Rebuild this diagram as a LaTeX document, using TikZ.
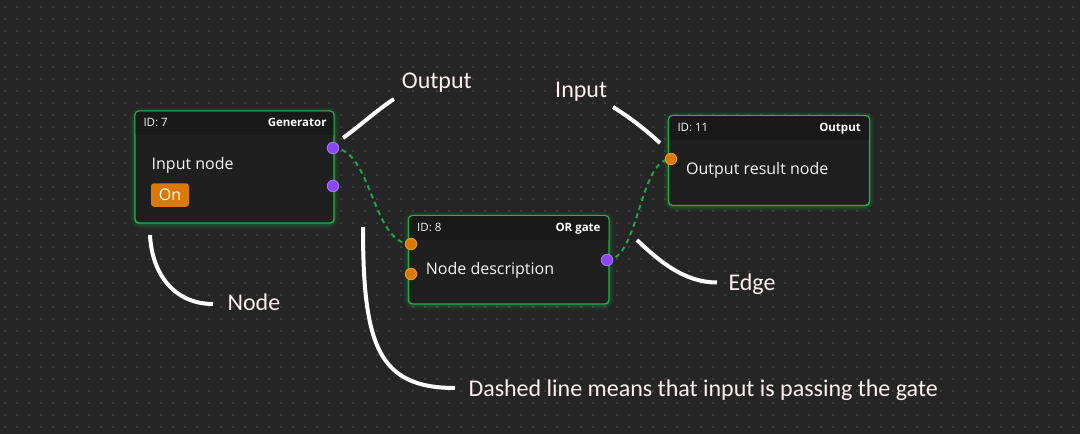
\documentclass[tikz,border=0pt]{standalone}
\usepackage{fontspec}
\setmainfont{Open Sans}
\newfontfamily\annfont{Carlito}
\usetikzlibrary{calc}
\definecolor{bgc}{HTML}{252525}
\definecolor{dotc}{HTML}{3E3E3E}
\definecolor{bodyc}{HTML}{1F1F1F}
\definecolor{hdrc}{HTML}{191919}
\definecolor{grn}{HTML}{22B24C}
\definecolor{edgec}{HTML}{1EA34F}
\definecolor{purp}{HTML}{8A47F0}
\definecolor{purpb}{HTML}{A47CFF}
\definecolor{orng}{HTML}{D97A06}
\definecolor{orngb}{HTML}{F59E0B}
\definecolor{txt}{HTML}{F5F5F5}
\definecolor{anntxt}{HTML}{FCF0F0}
\pgfdeclarelayer{gridlayer}
\pgfdeclarelayer{edgelayer}
\pgfsetlayers{gridlayer,edgelayer,main}
\tikzset{
  fbox/.style={draw=grn, line width=1.4pt, fill=bodyc, rounded corners=4pt, inner sep=0pt},
  glow/.style={draw=grn, rounded corners=6pt},
  port/.style={circle, inner sep=0pt, minimum size=11.5pt, line width=0.8pt},
  inport/.style={port, fill=orng, draw=orngb},
  outport/.style={port, fill=purp, draw=purpb},
  idtxt/.style={anchor=base west, inner sep=0pt, text=txt, font=\fontsize{11.5}{13}\selectfont},
  typetxt/.style={anchor=base east, inner sep=0pt, text=white, font=\fontsize{11.5}{13}\selectfont\bfseries},
  titletxt/.style={anchor=base west, inner sep=0pt, text=txt, font=\fontsize{16}{19}\selectfont},
  flowedge/.style={draw=edgec, line width=2pt, dash pattern=on 5pt off 4pt},
  annline/.style={draw=white, line width=4pt},
  anntext/.style={anchor=base west, inner sep=0pt, text=anntxt, font=\annfont\fontsize{24}{28}\selectfont},
  onbtn/.style={fill=orng, rounded corners=3pt, minimum width=38pt, minimum height=23.5pt, inner sep=0pt, text=white, font=\fontsize{16}{19}\selectfont}
}
% #1 name, #2 x1, #3 y1, #4 x2, #5 y2, #6 header bottom
\newcommand{\flowbox}[6]{%
  \begin{pgfonlayer}{gridlayer}
    \foreach \w/\o in {10/0.05,7/0.08,4/0.14}{
      \draw[glow, line width=\w pt, opacity=\o] (#2,#3+1) rectangle (#4,#5+1);
    }
  \end{pgfonlayer}
  \node[fbox, minimum width={#4-#2}, minimum height={#5-#3}] (#1) at ({(#2+#4)/2},{(#3+#5)/2}) {};
  \fill[hdrc] (#2+0.7,#6) [rounded corners=3.3pt] -- (#2+0.7,#3+0.7) -- (#4-0.7,#3+0.7) [sharp corners] -- (#4-0.7,#6) -- cycle;
}
\begin{document}
\begin{tikzpicture}[x=1pt,y=-1pt]
\useasboundingbox (0,0) rectangle (1080,434);
\begin{pgfonlayer}{gridlayer}
  \fill[bgc] (0,0) rectangle (1080,434);
  \foreach \i in {0,...,89}{
    \foreach \j in {0,...,35}{
      \fill[dotc] ({5+12*\i-1},{7+12*\j-1}) rectangle +(2,2);
    }
  }
\end{pgfonlayer}

% node 7
\flowbox{n7}{135}{111}{334}{223}{135}
\node[idtxt] (id7) at (143.3,126.7) {ID: 7};
\node[typetxt] (ty7) at (326.7,126.7) {Generator};
\node[titletxt] (ti7) at (151.5,169.3) {Input node};
\node[onbtn] (on7) at (170,195) {On};
\node[outport] (p7a) at (333,148) {};
\node[outport] (p7b) at (333,186) {};

% node 8
\flowbox{n8}{408.5}{215.5}{609}{304}{240}
\node[idtxt] (id8) at (417,231.7) {ID: 8};
\node[typetxt] (ty8) at (600.7,231.7) {OR gate};
\node[titletxt] (ti8) at (425.7,274.3) {Node description};
\node[inport] (p8a) at (411,244) {};
\node[inport] (p8b) at (411,274) {};
\node[outport] (p8c) at (607,260) {};

% node 11
\flowbox{n11}{668.5}{115.5}{869.5}{205.5}{140}
\node[idtxt] (id11) at (677.3,131.7) {ID: 11};
\node[typetxt] (ty11) at (861,131.7) {Output};
\node[titletxt] (ti11) at (686,174) {Output result node};
\node[inport] (p11a) at (671,159) {};

% edges
\begin{pgfonlayer}{edgelayer}
  \draw[flowedge] (p7a.center) .. controls (372,148) and (372,244) .. (p8a.center);
  \draw[flowedge] (p8c.center) .. controls (639,260) and (639,159) .. (p11a.center);
\end{pgfonlayer}

% annotations
\node[anntext] (tout) at (401.7,88.3) {Output};
\node[anntext] (tin) at (555,97.3) {Input};
\node[anntext] (tnode) at (227.3,310.3) {Node};
\node[anntext] (tedge) at (728.3,290) {Edge};
\node[anntext] (tdash) at (468.3,396) {Dashed line means that input is passing the gate};

\coordinate (aout1) at (343,138);
\coordinate (aout2) at (394,99);
\coordinate (ain1) at (613,107);
\coordinate (ain2) at (660,143);
\coordinate (anode1) at (150,235);
\coordinate (anode2) at (213,304);
\coordinate (aedge1) at (637,240);
\coordinate (aedge2) at (717,282.5);
\coordinate (adash1) at (363,227);
\coordinate (adash2) at (455,388);

\draw[annline] (aout1) .. controls (361,125) and (377,110) .. (aout2);
\draw[annline] (ain1) .. controls (629,117) and (645,129) .. (ain2);
\draw[annline] (anode1) .. controls (152,275) and (175,304) .. (anode2);
\draw[annline] (aedge1) .. controls (660,262) and (685,282.5) .. (aedge2);
\draw[annline] (adash1) .. controls (363,345) and (378,388) .. (adash2);
\end{tikzpicture}
\end{document}
